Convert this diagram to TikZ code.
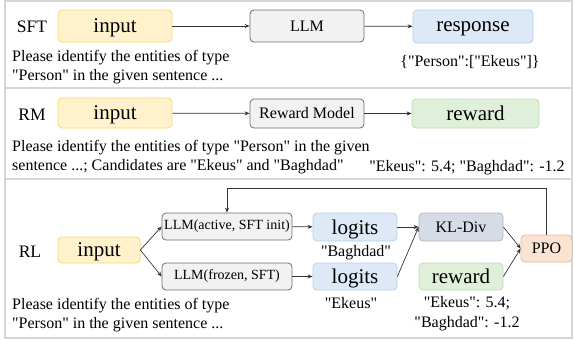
\documentclass[tikz,border=0pt]{standalone}
\usepackage{fontspec}
\setmainfont{Liberation Serif}[Ligatures=TeXOff]
\usetikzlibrary{arrows.meta}
\definecolor{yfill}{HTML}{FFF2CC}\definecolor{ydraw}{HTML}{FFD966}
\definecolor{gfill}{HTML}{F2F2F2}\definecolor{gdraw}{HTML}{6E6E6E}
\definecolor{bfill}{HTML}{DDE9F6}\definecolor{bdraw}{HTML}{B8D0EC}
\definecolor{grfill}{HTML}{E0EFD9}\definecolor{grdraw}{HTML}{BFDFB0}
\definecolor{kfill}{HTML}{D6DCE5}\definecolor{kdraw}{HTML}{AEB9CA}
\definecolor{pfill}{HTML}{FBE3D3}\definecolor{pdraw}{HTML}{F4B78E}
\definecolor{lin}{HTML}{333333}
\tikzset{
  base/.style={rounded corners=4pt, line width=0.8pt, inner sep=0pt, align=center},
  big/.style={font=\fontsize{21}{24}\selectfont, text depth=0pt},
  inbox/.style={base, fill=yfill, draw=ydraw, big},
  llmbox/.style={base, fill=gfill, draw=gdraw, font=\fontsize{16}{19}\selectfont},
  llmsmall/.style={llmbox, font=\fontsize{14}{16}\selectfont},
  bluebox/.style={base, fill=bfill, draw=bdraw, big},
  greenbox/.style={base, fill=grfill, draw=grdraw, big},
  klbox/.style={base, fill=kfill, draw=kdraw, font=\fontsize{16}{19}\selectfont},
  ppobox/.style={base, fill=pfill, draw=pdraw, font=\fontsize{16}{19}\selectfont},
  stage/.style={font=\fontsize{17.5}{20}\selectfont, inner sep=0pt},
  txt/.style={font=\fontsize{16}{19}\selectfont, inner sep=0pt, align=left},
  ctxt/.style={font=\fontsize{16}{19.5}\selectfont, inner sep=0pt, align=center},
  arr/.style={draw=lin, line width=0.7pt, -{Stealth[length=5pt,width=4pt]}},
  panel/.style={draw=black!16, line width=1.3pt}
}
\begin{document}
\begin{tikzpicture}[x=1pt,y=-1pt]
\useasboundingbox (0,0) rectangle (574,340);
\fill[white] (0,0) rectangle (574,340);
% panels
\draw[panel] (5,1) rectangle (572,88);
\draw[panel] (5,88) rectangle (572,179);
\draw[panel] (5,179) rectangle (572,338);

% SFT
\node[stage] (sftlab) at (32,27) {SFT};
\node[inbox, minimum width=114pt, minimum height=32pt] (in1) at (115,26) {input};
\node[llmbox, minimum width=114pt, minimum height=32pt] (llm1) at (307,26) {LLM};
\node[bluebox, minimum width=120pt, minimum height=33pt] (resp) at (473,26.5) {response};
\node[txt, anchor=west] (p1) at (12,67.5) {Please identify the entities of type\\"Person" in the given sentence ...};
\node[ctxt] (r1) at (470,62) {\{"Person":["Ekeus"]\}};
\draw[arr] (in1) -- (llm1);
\draw[arr] (llm1) -- (resp);

% RM
\node[stage] (rmlab) at (32,115) {RM};
\node[inbox, minimum width=114pt, minimum height=30pt] (in2) at (115,113) {input};
\node[llmbox, minimum width=114pt, minimum height=29pt] (rm) at (307,113.5) {Reward Model};
\node[greenbox, minimum width=127pt, minimum height=29pt] (rew1) at (475.5,113.5) {reward};
\node[txt, anchor=west] (p2) at (12,157) {Please identify the entities of type "Person" in the given\\sentence ...; Candidates are "Ekeus" and "Baghdad"};
\node[ctxt] (s2) at (467,167.5) {"Ekeus": 5.4; "Baghdad": -1.2};
\draw[arr] (in2) -- (rm);
\draw[arr] (rm) -- (rew1);

% RL
\node[stage] (rllab) at (30,252) {RL};
\node[inbox, minimum width=82pt, minimum height=26pt] (in3) at (99,250) {input};
\node[llmsmall, minimum width=130pt, minimum height=27pt] (act) at (227,226.5) {LLM(active, SFT init)};
\node[llmsmall, minimum width=130pt, minimum height=27pt] (frz) at (227,276.5) {LLM(frozen, SFT)};
\node[bluebox, minimum width=84pt, minimum height=28pt] (lg1) at (355,227) {logits};
\node[bluebox, minimum width=84pt, minimum height=27pt] (lg2) at (355,276.5) {logits};
\node[klbox, minimum width=84pt, minimum height=28pt] (kl) at (461,227) {KL-Div};
\node[greenbox, minimum width=84pt, minimum height=27pt] (rew2) at (461,276.5) {reward};
\node[ppobox, minimum width=51pt, minimum height=27pt] (ppo) at (546.5,248.5) {PPO};
\node[ctxt] (c1) at (356,252.5) {"Baghdad"};
\node[ctxt] (c2) at (351,303.5) {"Ekeus"};
\node[ctxt] (c3) at (467,313.5) {"Ekeus": 5.4;\\"Baghdad": -1.2};
\node[txt, anchor=west] (p3) at (12,315) {Please identify the entities of type\\"Person" in the given sentence ...};
\draw[arr] (in3.east) -- (act.west);
\draw[arr] (in3.east) -- (frz.west);
\draw[arr] (act) -- (lg1);
\draw[arr] (frz) -- (lg2);
\draw[arr] (lg1.east) -- (kl.west);
\draw[arr] (lg2.east) -- (kl.west);
\draw[arr] (kl.east) -- (ppo.west);
\draw[arr] (rew2.east) -- (ppo.west);
\draw[arr] (ppo.north) -- ++(0,-46) -| (act.north);
\end{tikzpicture}
\end{document}
